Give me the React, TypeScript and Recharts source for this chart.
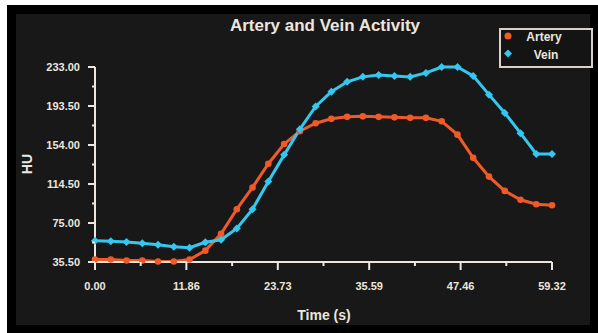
import { Line, LineChart, XAxis, YAxis } from 'recharts'

// time points (s) and HU readings per vessel
const TIME_S = [
  0.0, 2.05, 4.09, 6.14, 8.18, 10.23, 12.27, 14.32, 16.36, 18.41, 20.45, 22.5, 24.55, 26.59, 28.64,
  30.68, 32.73, 34.77, 36.82, 38.87, 40.91, 42.96, 45.0, 47.05, 49.09, 51.14, 53.19, 55.23, 57.28, 59.32,
]
const ARTERY_HU = [
  38, 38, 37, 37, 36, 36, 38, 47, 64, 89, 111, 135, 155, 168, 176, 180.5, 182.5, 183, 182.5, 182, 181.5,
  181.5, 178, 164.5, 141, 122, 107.5, 98.5, 94, 93,
]
const VEIN_HU = [
  57, 56.5, 55.7, 54.5, 53, 51, 50, 55.5, 58, 69.5, 89, 117, 144, 170, 193, 208, 218, 223, 225, 224, 223,
  227, 233, 233, 224, 205, 186.5, 166, 145, 145,
]

const X_TICKS_MAJOR = [0, 11.86, 23.73, 35.59, 47.46, 59.32]
const X_TICKS_MINOR = [5.93, 17.8, 29.66, 41.53, 53.39]
const Y_TICKS_MAJOR = [35.5, 75, 114.5, 154, 193.5, 233]
const Y_TICKS_MINOR = [55.25, 94.75, 134.25, 173.75, 213.25]

const ARTERY_COLOR = '#f05a28'
const VEIN_COLOR = '#34c8f0'
const TEXT = '#ece6de'
const FONT = '"Liberation Sans", Arial, sans-serif'

const data = TIME_S.map((t, i) => ({ t, artery: ARTERY_HU[i], vein: VEIN_HU[i] }))

const Y_TICK_SIZE = 7
const Y_TICK_MARGIN = 8
const X_TICK_SIZE = 8
const X_TICK_MARGIN = 12

function YTick({ x, y, payload }: any) {
  const major = Y_TICKS_MAJOR.includes(payload.value)
  const axisX = x + Y_TICK_SIZE + Y_TICK_MARGIN
  return (
    <g>
      <line x1={axisX - (major ? 7 : 3)} x2={axisX} y1={y} y2={y} stroke={TEXT} strokeWidth={2} />
      {major && (
        <text x={x} y={y} dy="0.35em" textAnchor="end" fill={TEXT} fontSize={11} fontWeight="bold" fontFamily={FONT}>
          {payload.value.toFixed(2)}
        </text>
      )}
    </g>
  )
}

function XTick({ x, y, payload }: any) {
  const major = X_TICKS_MAJOR.includes(payload.value)
  const axisY = y - X_TICK_SIZE - X_TICK_MARGIN
  return (
    <g>
      <line x1={x} x2={x} y1={axisY} y2={axisY + (major ? 8 : 4)} stroke={TEXT} strokeWidth={2} />
      {major && (
        <text x={x} y={y} dy="0.71em" textAnchor="middle" fill={TEXT} fontSize={11} fontWeight="bold" fontFamily={FONT}>
          {payload.value.toFixed(2)}
        </text>
      )}
    </g>
  )
}

function ArteryDot(props: any) {
  const { cx, cy, index } = props
  return <circle key={`a-${index}`} cx={cx} cy={cy} r={3.3} fill={ARTERY_COLOR} />
}

function VeinDot(props: any) {
  const { cx, cy, index } = props
  const s = 4
  return (
    <polygon
      key={`v-${index}`}
      points={`${cx},${cy - s} ${cx + s},${cy} ${cx},${cy + s} ${cx - s},${cy}`}
      fill={VEIN_COLOR}
    />
  )
}

export default function App() {
  return (
    <div style={{ position: 'relative', width: 598, height: 333, background: '#fff', overflow: 'hidden' }}>
      <style>{'body{margin:0}'}</style>
      <div style={{ position: 'absolute', left: 7, top: 5, width: 591, height: 328, background: '#000' }} />
      <div style={{ position: 'absolute', left: 16, top: 14, width: 574, height: 311, background: '#181818' }} />
      <svg width={598} height={333} style={{ position: 'absolute', left: 0, top: 0 }} fontFamily={FONT}>
        <text
          x={325}
          y={25}
          dy="0.35em"
          textAnchor="middle"
          fill={TEXT}
          fontSize={16}
          fontWeight="bold"
          textLength={190}
          lengthAdjust="spacingAndGlyphs"
        >
          Artery and Vein Activity
        </text>
        <text x={324} y={315} dy="0.35em" textAnchor="middle" fill={TEXT} fontSize={14} fontWeight="bold">
          Time (s)
        </text>
        <text
          x={27}
          y={164}
          dy="0.35em"
          textAnchor="middle"
          fill={TEXT}
          fontSize={14}
          fontWeight="bold"
          transform="rotate(-90 27 164)"
        >
          HU
        </text>
        <rect x={500} y={29} width={92} height={38} fill="#141414" stroke="#d9d2c9" strokeWidth={2} />
        <circle cx={508} cy={36} r={3.5} fill={ARTERY_COLOR} />
        <text x={544} y={37} dy="0.35em" textAnchor="middle" fill={TEXT} fontSize={12} fontWeight="bold">
          Artery
        </text>
        <polygon points="508,49.5 512,53.5 508,57.5 504,53.5" fill={VEIN_COLOR} />
        <text x={546} y={55} dy="0.35em" textAnchor="middle" fill={TEXT} fontSize={12} fontWeight="bold">
          Vein
        </text>
      </svg>
      <div style={{ position: 'absolute', left: 0, top: 0 }}>
        <LineChart width={598} height={333} data={data} margin={{ top: 67, right: 46, bottom: 41, left: 35 }}>
          <XAxis
            dataKey="t"
            type="number"
            domain={[0, 59.32]}
            ticks={[...X_TICKS_MAJOR, ...X_TICKS_MINOR].sort((a, b) => a - b)}
            interval={0}
            height={30}
            tickSize={X_TICK_SIZE}
            tickMargin={X_TICK_MARGIN}
            tickLine={false}
            axisLine={{ stroke: TEXT, strokeWidth: 2 }}
            tick={<XTick />}
          />
          <YAxis
            type="number"
            domain={[35.5, 233]}
            ticks={[...Y_TICKS_MAJOR, ...Y_TICKS_MINOR].sort((a, b) => a - b)}
            interval={0}
            width={60}
            tickSize={Y_TICK_SIZE}
            tickMargin={Y_TICK_MARGIN}
            tickLine={false}
            axisLine={{ stroke: TEXT, strokeWidth: 2 }}
            tick={<YTick />}
          />
          <Line
            dataKey="artery"
            stroke={ARTERY_COLOR}
            strokeWidth={3}
            dot={ArteryDot}
            activeDot={false}
            isAnimationActive={false}
          />
          <Line
            dataKey="vein"
            stroke={VEIN_COLOR}
            strokeWidth={3}
            dot={VeinDot}
            activeDot={false}
            isAnimationActive={false}
          />
        </LineChart>
      </div>
    </div>
  )
}
